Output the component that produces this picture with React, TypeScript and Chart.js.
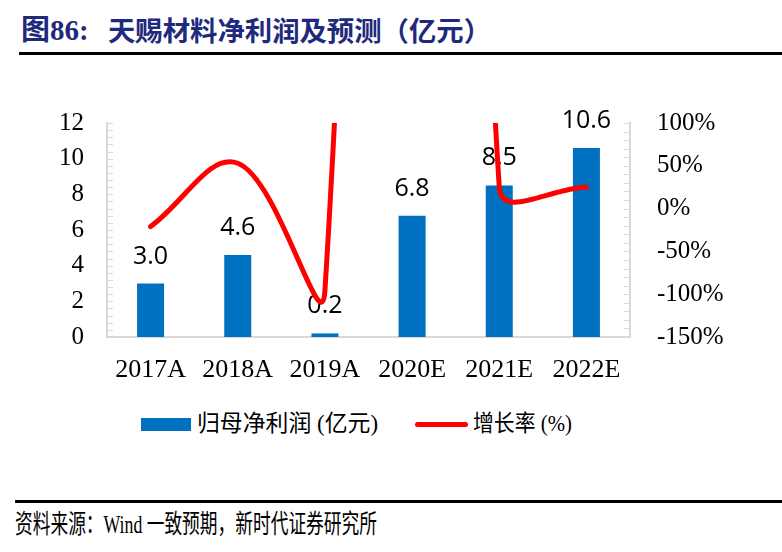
import React, { useEffect, useLayoutEffect, useRef } from "react";
import { Chart, registerables } from "chart.js";

Chart.register(...registerables);

const categories = ["2017A", "2018A", "2019A", "2020E", "2021E", "2022E"];
const netProfit = [3.0, 4.6, 0.2, 6.8, 8.5, 10.6];
const growthRate = [-21, 53, -96, 3300, 25, 25];
const leftAxis = { min: 0, max: 12, step: 2, minor: 0.4 };
const rightAxis = { min: -150, max: 100, step: 50, minor: 10 };

const SERIF = '"Liberation Serif", "Times New Roman", "Noto Sans CJK SC", serif';
const CJK = '"Liberation Serif", "Noto Sans CJK SC", serif';

function FitText(props: { text: string; width: number; style: React.CSSProperties }) {
  const ref = useRef<HTMLSpanElement>(null);
  useLayoutEffect(() => {
    const el = ref.current;
    if (!el) return;
    el.style.transform = "none";
    const w = el.getBoundingClientRect().width;
    if (w > 0) el.style.transform = `scaleX(${props.width / w})`;
  }, [props.text, props.width]);
  return (
    <span
      ref={ref}
      style={{ position: "absolute", whiteSpace: "nowrap", transformOrigin: "left center", ...props.style }}
    >
      {props.text}
    </span>
  );
}

const minorTickPlugin = {
  id: "minorTicks",
  afterDraw(chart: any) {
    const ctx = chart.ctx;
    const y = chart.scales.y;
    const y1 = chart.scales.y1;
    const area = chart.chartArea;
    ctx.save();
    ctx.strokeStyle = "#D9D9D9";
    ctx.lineWidth = 1;
    const nL = Math.round((leftAxis.max - leftAxis.min) / leftAxis.minor);
    for (let i = 0; i <= nL; i++) {
      const py = Math.round(y.getPixelForValue(leftAxis.min + i * leftAxis.minor)) + 0.5;
      ctx.beginPath();
      ctx.moveTo(area.left, py);
      ctx.lineTo(area.left + 6, py);
      ctx.stroke();
    }
    const nR = Math.round((rightAxis.max - rightAxis.min) / rightAxis.minor);
    for (let i = 0; i <= nR; i++) {
      const py = Math.round(y1.getPixelForValue(rightAxis.min + i * rightAxis.minor)) + 0.5;
      ctx.beginPath();
      ctx.moveTo(area.right - 6, py);
      ctx.lineTo(area.right, py);
      ctx.stroke();
    }
    ctx.restore();
  },
};

const barLabelPlugin = {
  id: "barLabels",
  afterDatasetDraw(chart: any, args: any) {
    if (args.index !== 0) return;
    const ctx = chart.ctx;
    const meta = chart.getDatasetMeta(0);
    ctx.save();
    ctx.fillStyle = "#000";
    ctx.font = '25px "Open Sans", "Liberation Sans", sans-serif';
    ctx.textAlign = "center";
    ctx.textBaseline = "alphabetic";
    meta.data.forEach((bar: any, i: number) => {
      ctx.fillText(netProfit[i].toFixed(1), bar.x, bar.y - 20);
    });
    ctx.restore();
  },
};

function ChartView() {
  const canvasRef = useRef<HTMLCanvasElement>(null);
  useEffect(() => {
    const canvas = canvasRef.current;
    if (!canvas) return;
    const chart = new Chart(canvas, {
      type: "bar",
      data: {
        labels: categories,
        datasets: [
          {
            type: "bar",
            label: "归母净利润 (亿元)",
            data: netProfit,
            backgroundColor: "#0070C0",
            yAxisID: "y",
            categoryPercentage: 1,
            barPercentage: 0.31,
            order: 1,
          },
          {
            type: "line",
            label: "增长率 (%)",
            data: growthRate,
            borderColor: "#FF0000",
            borderWidth: 5,
            pointRadius: 0,
            tension: 0.4,
            capBezierPoints: false,
            borderCapStyle: "round",
            borderJoinStyle: "round",
            yAxisID: "y1",
            order: 0,
          } as any,
        ],
      },
      options: {
        responsive: false,
        animation: false,
        maintainAspectRatio: false,
        layout: { padding: { top: 5, left: 0, right: 0, bottom: 0 } },
        plugins: { legend: { display: false }, tooltip: { enabled: false } },
        scales: {
          x: {
            grid: { display: false },
            border: { display: true, color: "#D9D9D9", width: 2 },
            ticks: { color: "#000", font: { family: SERIF, size: 26 }, padding: 10 },
            afterFit: (s: any) => {
              s.height = 63;
            },
          },
          y: {
            position: "left",
            min: leftAxis.min,
            max: leftAxis.max,
            grid: { display: false },
            border: { display: true, color: "#D9D9D9", width: 2 },
            ticks: { stepSize: leftAxis.step, color: "#000", font: { family: SERIF, size: 25 }, padding: 15 },
            afterFit: (s: any) => {
              s.width = 107;
            },
          },
          y1: {
            position: "right",
            min: rightAxis.min,
            max: rightAxis.max,
            grid: { display: false },
            border: { display: true, color: "#D9D9D9", width: 2 },
            ticks: {
              stepSize: rightAxis.step,
              color: "#000",
              font: { family: SERIF, size: 25 },
              padding: 19,
              callback: (v: any) => `${v}%`,
            },
            afterFit: (s: any) => {
              s.width = 152;
            },
          },
        },
      },
      plugins: [barLabelPlugin, minorTickPlugin],
    });
    return () => chart.destroy();
  }, []);
  return (
    <canvas
      ref={canvasRef}
      width={782}
      height={311}
      style={{ position: "absolute", left: 0, top: 89, width: 782, height: 311 }}
    />
  );
}

export default function App() {
  const titleColor = "#1F2A7C";
  return (
    <div
      style={{
        position: "absolute",
        left: 0,
        top: 0,
        width: 782,
        height: 552,
        background: "#fff",
        overflow: "hidden",
      }}
    >
      <span
        style={{
          position: "absolute",
          left: 21,
          top: 11,
          fontFamily: CJK,
          fontWeight: "bold",
          fontSize: 29,
          lineHeight: "38px",
          color: titleColor,
          whiteSpace: "nowrap",
        }}
      >
        图86:
      </span>
      <FitText
        text="天赐材料净利润及预测（亿元）"
        width={383}
        style={{
          left: 108,
          top: 11,
          fontFamily: '"Noto Sans CJK SC", sans-serif',
          fontWeight: "bold",
          fontSize: 27,
          lineHeight: "38px",
          color: titleColor,
        }}
      />
      <div style={{ position: "absolute", left: 19, top: 52, width: 763, height: 2.5, background: "#000" }} />

      <ChartView />

      <div style={{ position: "absolute", left: 141, top: 418, width: 50, height: 13, background: "#0070C0" }} />
      <FitText
        text="归母净利润 (亿元)"
        width={181}
        style={{ left: 197, top: 408, fontFamily: CJK, fontSize: 23, lineHeight: "32px", color: "#000" }}
      />
      <div
        style={{ position: "absolute", left: 415, top: 421.5, width: 53, height: 5, borderRadius: 3, background: "#FF0000" }}
      />
      <FitText
        text="增长率 (%)"
        width={99}
        style={{ left: 473, top: 408, fontFamily: CJK, fontSize: 23, lineHeight: "32px", color: "#000" }}
      />

      <div style={{ position: "absolute", left: 15, top: 500, width: 767, height: 2.5, background: "#000" }} />
      <FitText
        text="资料来源：Wind 一致预期，新时代证券研究所"
        width={362}
        style={{ left: 15, top: 507, fontFamily: CJK, fontSize: 26, lineHeight: "36px", color: "#000" }}
      />
    </div>
  );
}
